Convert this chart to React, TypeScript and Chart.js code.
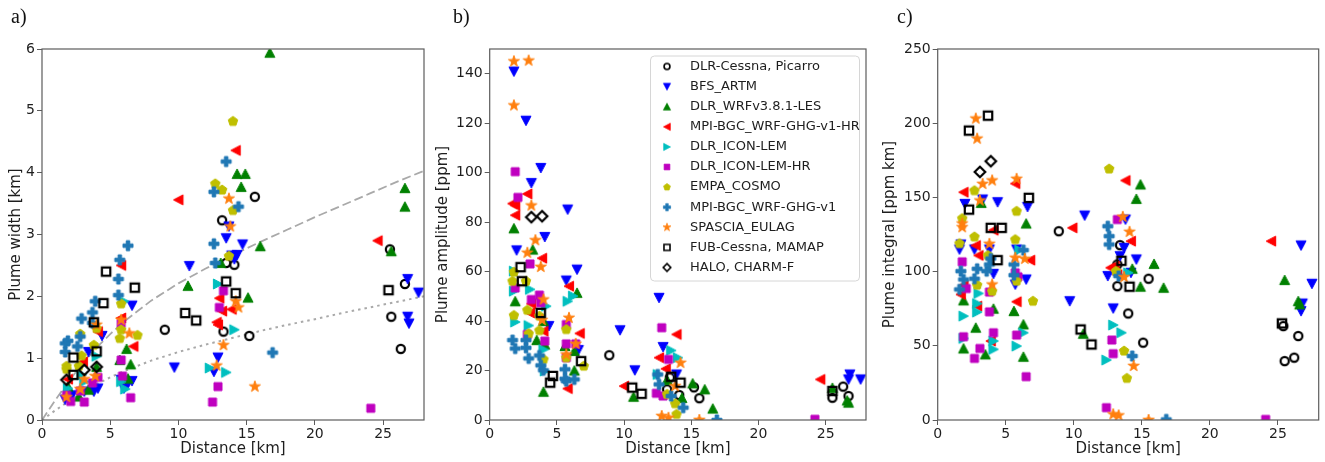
import React, { useEffect, useRef } from 'react';
import { Chart, registerables } from 'chart.js';

Chart.register(...registerables);

type Pt = [number, number];

// ---------- axis ticks ----------
const distanceTicks = [0, 5, 10, 15, 20, 25];
const widthTicks = [0, 1, 2, 3, 4, 5, 6];
const amplitudeTicks = [0, 20, 40, 60, 80, 100, 120, 140];
const integralTicks = [0, 50, 100, 150, 200, 250];

// ---------- series ----------
const seriesLabels = [
  'DLR-Cessna, Picarro',
  'BFS_ARTM',
  'DLR_WRFv3.8.1-LES',
  'MPI-BGC_WRF-GHG-v1-HR',
  'DLR_ICON-LEM',
  'DLR_ICON-LEM-HR',
  'EMPA_COSMO',
  'MPI-BGC_WRF-GHG-v1',
  'SPASCIA_EULAG',
  'FUB-Cessna, MAMAP',
  'HALO, CHARM-F',
];
const seriesColors = ['#000000', '#0000ff', '#008000', '#ff0000', '#00bfbf', '#bf00bf', '#bfbf00', '#1f77b4', '#ff7f0e', '#000000', '#000000'];
const seriesMarkers = ['o', 'v', '^', '<', '>', 's', 'p', 'P', '*', 'S', 'D'];

// ---------- a) plume width [km] vs distance [km] ----------
const widthCessna: Pt[] = [[13.2, 3.23], [15.6, 3.61], [13.5, 2.54], [14.1, 2.51], [9.0, 1.46], [13.3, 1.43], [15.2, 1.36], [25.5, 2.76], [26.6, 2.2], [25.6, 1.67], [26.3, 1.15]];
const widthBfs: Pt[] = [[13.5, 2.94], [13.7, 3.13], [14.7, 2.84], [13.9, 2.66], [14.3, 2.67], [14.1, 2.6], [10.8, 2.49], [9.7, 0.85], [12.9, 1.01], [12.6, 0.78], [26.8, 2.28], [27.6, 2.06], [26.8, 1.67], [26.9, 1.56], [6.6, 1.85], [4.4, 1.36], [3.4, 1.1], [5.8, 0.65], [6.3, 0.59], [6.6, 0.63], [6.0, 0.51], [4.1, 0.51], [3.8, 0.46], [2.2, 0.4], [1.7, 0.33], [3.1, 0.46]];
const widthWrf: Pt[] = [[16.7, 5.94], [14.3, 3.98], [14.9, 3.98], [14.6, 3.77], [16.0, 2.81], [10.7, 2.17], [13.1, 2.54], [15.1, 1.98], [26.6, 3.75], [26.6, 3.45], [25.6, 2.73], [6.2, 1.15], [5.7, 0.97], [6.5, 0.9], [6.3, 0.67], [4.0, 0.86], [3.4, 0.49], [2.7, 0.38], [1.9, 0.54]];
const widthMpiHr: Pt[] = [[14.2, 4.36], [10.0, 3.56], [24.6, 2.9], [13.0, 1.97], [13.2, 1.76], [13.9, 1.79], [12.8, 1.58], [12.9, 1.54], [5.8, 2.5], [5.8, 1.65], [6.7, 1.19], [4.1, 1.43], [3.0, 0.94], [1.9, 0.66]];
const widthIcon: Pt[] = [[12.9, 2.2], [14.1, 1.46], [13.5, 0.77], [12.3, 0.84], [6.0, 1.92], [4.0, 1.03], [6.1, 0.5], [5.8, 0.62], [1.9, 0.51], [2.9, 0.73], [3.1, 0.62]];
const widthIconHr: Pt[] = [[13.3, 2.09], [13.0, 1.82], [12.9, 0.54], [12.5, 0.29], [24.1, 0.19], [5.8, 1.56], [5.8, 0.97], [5.9, 0.71], [6.5, 0.36], [4.1, 0.69], [3.7, 0.6], [3.1, 0.29], [2.8, 0.47], [2.1, 0.3], [1.8, 0.4]];
const widthCosmo: Pt[] = [[14.0, 4.83], [12.7, 3.82], [13.2, 3.72], [14.0, 3.39], [13.7, 2.65], [5.8, 1.88], [5.8, 1.46], [5.7, 1.32], [7.0, 1.37], [4.0, 1.48], [3.8, 1.21], [2.8, 1.39], [2.9, 1.04], [2.7, 0.87], [1.8, 0.87], [1.8, 0.82]];
const widthMpi: Pt[] = [[13.5, 4.18], [12.6, 3.69], [14.4, 3.45], [12.6, 2.85], [12.7, 2.54], [16.9, 1.09], [6.3, 2.82], [5.7, 2.59], [5.6, 2.28], [5.6, 2.02], [3.9, 1.92], [3.7, 1.74], [2.9, 1.64], [3.7, 1.57], [2.8, 1.35], [2.6, 1.19], [1.9, 1.28], [1.7, 1.24], [1.7, 1.1]];
const widthSpascia: Pt[] = [[13.7, 3.58], [13.8, 3.13], [14.2, 1.92], [14.4, 1.82], [13.3, 1.21], [12.8, 0.88], [15.6, 0.54], [6.4, 1.4], [5.8, 1.62], [4.0, 1.54], [3.9, 0.71], [3.1, 0.66], [2.8, 0.5], [1.8, 0.37]];
const widthFub: Pt[] = [[4.7, 2.4], [4.5, 1.89], [6.8, 2.14], [3.8, 1.58], [4.0, 1.11], [2.3, 1.01], [2.3, 0.73], [10.5, 1.73], [11.3, 1.61], [13.5, 2.24], [14.2, 2.05], [25.4, 2.1]];
const widthHalo: Pt[] = [[1.8, 0.65], [3.1, 0.81], [4.0, 0.86]];

// fitted width curves (dashed: upper, dotted: lower)
const widthCurveDashed: Pt[] = [[0, 0], [1, 0.33], [2, 0.64], [3, 0.92], [4, 1.17], [5, 1.39], [6, 1.59], [8, 1.93], [10, 2.21], [12, 2.45], [14, 2.67], [16, 2.88], [18, 3.08], [20, 3.28], [22, 3.47], [24, 3.66], [26, 3.85], [28, 4.03]];
const widthCurveDotted: Pt[] = [[0, 0], [1, 0.16], [2, 0.31], [3, 0.45], [4, 0.58], [5, 0.69], [6, 0.79], [8, 0.96], [10, 1.1], [12, 1.22], [14, 1.33], [16, 1.44], [18, 1.54], [20, 1.63], [22, 1.73], [24, 1.82], [26, 1.91], [28, 2.0]];

// ---------- b) plume amplitude [ppm] vs distance [km] ----------
const amplitudeCessna: Pt[] = [[8.9, 26.2], [13.4, 17.2], [13.2, 12.4], [14.1, 10.1], [15.2, 13.2], [15.6, 8.8], [25.5, 9.0], [26.3, 13.5], [26.7, 9.7]];
const amplitudeBfs: Pt[] = [[1.8, 140.9], [2.7, 121], [3.8, 101.9], [3.1, 95.8], [5.8, 85.1], [4.1, 74], [2.0, 68.6], [6.5, 60.8], [5.7, 56.4], [4.4, 38], [6.6, 28.3], [9.7, 36.3], [10.8, 20.1], [12.6, 49.4], [12.9, 29.5], [13.9, 18.4], [26.8, 18.4], [26.7, 16.4], [27.6, 16.4]];
const amplitudeWrf: Pt[] = [[1.8, 77.5], [3.2, 68.9], [1.9, 48], [3.5, 32.3], [4.1, 30.5], [4.0, 40], [4.0, 11.4], [5.6, 29.9], [6.5, 51.4], [6.3, 27.9], [6.3, 20], [10.7, 9.4], [13.2, 16.2], [14.3, 8.9], [15.1, 14.8], [16.0, 12.4], [16.6, 4.6], [25.5, 13], [26.6, 7.9], [26.7, 7.0]];
const amplitudeMpiHr: Pt[] = [[2.8, 91.4], [1.7, 87.5], [1.9, 86.8], [1.9, 82.8], [3.9, 65.4], [3.1, 47], [3.0, 43.3], [4.0, 35.9], [5.9, 54.1], [6.7, 35], [5.8, 12.7], [10.0, 13.7], [12.6, 25.2], [13.9, 34.6], [13.1, 20.7], [24.6, 16.4]];
const amplitudeIcon: Pt[] = [[1.8, 60.2], [1.8, 52.1], [1.9, 39.6], [2.9, 38.2], [3.0, 52.8], [4.2, 46], [4.0, 28.5], [4.1, 19.8], [5.8, 48], [6.2, 50.1], [12.5, 18.4], [13.5, 28.1], [14.0, 25.2]];
const amplitudeIconHr: Pt[] = [[1.9, 100.4], [2.1, 90], [1.9, 53.4], [3.0, 63.1], [3.1, 48.7], [3.7, 50.5], [3.8, 47.4], [4.1, 31.9], [2.8, 34.6], [5.7, 38.6], [5.7, 30.8], [5.7, 25.2], [6.4, 30.8], [12.8, 37.3], [13.3, 24.5], [12.4, 10.8], [12.9, 9.7], [24.2, 0.3]];
const amplitudeCosmo: Pt[] = [[1.8, 59.8], [1.7, 56.1], [2.7, 56.1], [1.8, 42.3], [2.8, 44.4], [2.9, 34.9], [3.7, 42], [3.7, 36.2], [4.0, 24.5], [5.7, 36.6], [5.7, 25.2], [7.0, 21.8], [13.2, 10.4], [13.8, 6.6], [13.9, 2.3]];
const amplitudeMpi: Pt[] = [[1.7, 32.3], [1.9, 28.9], [2.7, 32.3], [2.7, 29.2], [2.9, 24.9], [3.7, 26.1], [3.8, 22.1], [4.0, 20.1], [5.6, 20.5], [5.6, 16.7], [6.3, 16.4], [5.7, 15.7], [12.5, 18.4], [12.6, 14.4], [13.5, 9.7], [14.4, 5.0], [16.9, 0]];
const amplitudeSpascia: Pt[] = [[1.8, 145], [2.9, 145.3], [1.8, 127.2], [3.1, 86.7], [3.4, 72.7], [2.8, 67.6], [3.8, 61.9], [4.0, 48.7], [3.9, 40.4], [5.9, 41.3], [5.7, 26.5], [6.4, 30.8], [14.2, 23.1], [13.8, 13.7], [12.8, 1.6], [13.3, 0.9], [15.6, 0]];
const amplitudeFub: Pt[] = [[2.3, 61.8], [2.4, 56.1], [3.8, 43.3], [4.7, 17.8], [4.5, 15.1], [6.8, 23.8], [10.6, 13.1], [11.3, 10.6], [13.5, 17.5], [14.2, 15.1], [25.5, 11.7]];
const amplitudeHalo: Pt[] = [[3.1, 82], [3.9, 82.4]];

// ---------- c) plume integral [ppm km] vs distance [km] ----------
const integralCessna: Pt[] = [[8.9, 127.2], [13.4, 117.8], [13.2, 104.8], [13.2, 90.2], [14.0, 71.8], [15.5, 95.2], [15.1, 52.1], [25.4, 63.3], [25.5, 39.7], [26.2, 42], [26.5, 56.6]];
const integralBfs: Pt[] = [[2.0, 145.6], [3.3, 148.6], [4.4, 146.8], [6.6, 143.6], [1.7, 118.3], [1.6, 114.9], [2.7, 114.9], [3.8, 114.9], [4.1, 98.5], [5.8, 114.9], [5.7, 91.3], [6.5, 94.7], [10.8, 137.8], [9.7, 80.1], [12.9, 75.2], [13.8, 135.1], [13.7, 116], [13.4, 110.4], [14.6, 108.2], [12.5, 97], [14.2, 99.2], [26.7, 117.6], [27.5, 91.8], [26.7, 73.4], [26.8, 78.5]];
const integralWrf: Pt[] = [[3.2, 146.3], [1.9, 80.6], [4.1, 75], [5.6, 73.4], [6.5, 132.4], [6.3, 64.4], [2.8, 62.2], [1.9, 48.2], [3.5, 44.2], [6.3, 42.6], [10.7, 58.1], [14.9, 158.7], [14.6, 149], [14.3, 101.9], [15.9, 105.2], [16.6, 89.1], [14.9, 89.8], [25.5, 94.3], [26.5, 80.1], [26.6, 77.9]];
const integralMpiHr: Pt[] = [[1.9, 153.5], [2.8, 117.6], [3.0, 110.9], [4.1, 127.9], [1.7, 84.6], [1.9, 90.7], [2.9, 76.7], [5.7, 159.3], [5.8, 79.7], [6.8, 107.7], [3.9, 53.2], [9.9, 129.5], [13.8, 161.4], [14.2, 120.5], [12.7, 102.6], [13.0, 103.7], [13.2, 98], [24.5, 120.5]];
const integralIcon: Pt[] = [[1.9, 70], [2.9, 72.7], [3.0, 85.3], [2.9, 78.5], [4.1, 53.2], [4.1, 47.6], [5.8, 49.8], [6.3, 58.8], [6.0, 114.5], [12.4, 40.4], [12.9, 64], [13.5, 58.8], [14.0, 99.2], [1.9, 55]];
const integralIconHr: Pt[] = [[1.8, 106.6], [2.1, 88.6], [3.8, 86.2], [3.8, 72.9], [4.1, 58.8], [3.1, 48.2], [2.7, 41.5], [1.9, 56.1], [5.8, 57.2], [5.7, 99.2], [5.9, 96.5], [6.5, 29.2], [13.2, 135.1], [12.8, 53.9], [12.9, 44.7], [12.4, 8.3], [24.1, 0.4]];
const integralCosmo: Pt[] = [[2.7, 154.6], [1.8, 135.8], [2.7, 123.4], [1.6, 118.9], [3.7, 110.9], [2.9, 90.9], [4.0, 86.8], [5.8, 140.7], [5.7, 121.6], [5.8, 93.6], [7.0, 80.1], [12.6, 169.2], [13.1, 100.3], [13.7, 46.5], [13.9, 28.1]];
const integralMpi: Pt[] = [[1.7, 100.3], [1.9, 94.7], [1.6, 88], [2.7, 95.2], [2.9, 101.9], [3.6, 100.3], [3.8, 104.8], [3.9, 108.8], [5.6, 104.8], [5.6, 97.6], [6.3, 114.5], [12.5, 130.6], [12.6, 123.9], [12.6, 118.3], [13.3, 97], [14.3, 43.1], [16.8, 0.4]];
const integralSpascia: Pt[] = [[2.8, 203.1], [2.9, 189.6], [3.3, 159.1], [4.0, 161.4], [3.1, 147.9], [1.8, 132.4], [1.8, 129.9], [3.8, 118.7], [4.0, 91.3], [5.8, 162.5], [5.7, 109.3], [6.4, 108.6], [13.6, 136.9], [14.1, 126.8], [13.7, 96.3], [14.4, 36.4], [12.9, 3.8], [13.3, 3.1], [15.5, 0]];
const integralFub: Pt[] = [[3.7, 205.1], [2.3, 195], [2.3, 141.8], [3.9, 129.5], [4.7, 129.5], [6.7, 149.7], [4.4, 107.7], [10.5, 61], [11.3, 50.9], [13.5, 107.3], [14.1, 89.8], [25.3, 65.1]];
const integralHalo: Pt[] = [[3.1, 167.2], [3.9, 174.4]];

const widthSeries = [widthCessna, widthBfs, widthWrf, widthMpiHr, widthIcon, widthIconHr, widthCosmo, widthMpi, widthSpascia, widthFub, widthHalo];
const amplitudeSeries = [amplitudeCessna, amplitudeBfs, amplitudeWrf, amplitudeMpiHr, amplitudeIcon, amplitudeIconHr, amplitudeCosmo, amplitudeMpi, amplitudeSpascia, amplitudeFub, amplitudeHalo];
const integralSeries = [integralCessna, integralBfs, integralWrf, integralMpiHr, integralIcon, integralIconHr, integralCosmo, integralMpi, integralSpascia, integralFub, integralHalo];

const FONT = "'DejaVu Sans', sans-serif";
const INK = '#1e1e1e';
const SPINE = '#5c5c5c';

// Draws a matplotlib-like marker into a small offscreen canvas.
function makeMarker(kind: string, color: string, scale = 1): HTMLCanvasElement {
  const size = 18;
  const c = document.createElement('canvas');
  c.width = size;
  c.height = size;
  const ctx = c.getContext('2d') as CanvasRenderingContext2D;
  ctx.translate(size / 2, size / 2);
  ctx.scale(scale, scale);
  ctx.lineJoin = 'miter';
  ctx.beginPath();
  const polygon = (pts: number[][]) => {
    pts.forEach(([x, y], i) => (i === 0 ? ctx.moveTo(x, y) : ctx.lineTo(x, y)));
    ctx.closePath();
  };
  let hollow = false;
  switch (kind) {
    case 'o':
      ctx.arc(0, 0, 4.1, 0, Math.PI * 2);
      hollow = true;
      break;
    case 'v':
      polygon([[-5, -4.6], [5, -4.6], [0, 4.9]]);
      break;
    case '^':
      polygon([[-5, 4.6], [5, 4.6], [0, -4.9]]);
      break;
    case '<':
      polygon([[4.6, -5], [4.6, 5], [-4.9, 0]]);
      break;
    case '>':
      polygon([[-4.6, -5], [-4.6, 5], [4.9, 0]]);
      break;
    case 's':
      ctx.rect(-4, -4, 8, 8);
      break;
    case 'p': {
      const pts: number[][] = [];
      for (let i = 0; i < 5; i++) {
        const a = -Math.PI / 2 + (i * 2 * Math.PI) / 5;
        pts.push([5 * Math.cos(a), 5 * Math.sin(a)]);
      }
      polygon(pts);
      break;
    }
    case 'P': {
      const a = 1.75;
      const b = 5;
      polygon([[-a, -b], [a, -b], [a, -a], [b, -a], [b, a], [a, a], [a, b], [-a, b], [-a, a], [-b, a], [-b, -a], [-a, -a]]);
      break;
    }
    case '*': {
      const pts: number[][] = [];
      for (let i = 0; i < 10; i++) {
        const r = i % 2 === 0 ? 5.8 : 2.3;
        const a = -Math.PI / 2 + (i * Math.PI) / 5;
        pts.push([r * Math.cos(a), r * Math.sin(a)]);
      }
      polygon(pts);
      break;
    }
    case 'S':
      ctx.rect(-4.2, -4.2, 8.4, 8.4);
      hollow = true;
      break;
    case 'D':
      polygon([[0, -5.3], [5.3, 0], [0, 5.3], [-5.3, 0]]);
      hollow = true;
      break;
  }
  if (hollow) {
    ctx.lineWidth = 2.2;
    ctx.strokeStyle = color;
    ctx.stroke();
  } else {
    ctx.fillStyle = color;
    ctx.fill();
    ctx.lineWidth = 1;
    ctx.strokeStyle = color;
    ctx.stroke();
  }
  return c;
}

// Full box around the plotting area, drawn over the markers.
const framePlugin = {
  id: 'frame',
  afterDraw(chart: any) {
    const { ctx, chartArea: a } = chart;
    ctx.save();
    ctx.strokeStyle = SPINE;
    ctx.lineWidth = 1.2;
    ctx.strokeRect(a.left, a.top, a.right - a.left, a.bottom - a.top);
    ctx.restore();
  },
};

// Legend box placed in the upper right of the amplitude panel.
function makeLegendPlugin(markers: HTMLCanvasElement[]) {
  return {
    id: 'insetLegend',
    afterDraw(chart: any) {
      const { ctx, chartArea: a } = chart;
      const boxW = 209;
      const boxRight = a.right - 7;
      const boxLeft = boxRight - boxW;
      const boxTop = a.top + 6.5;
      const rowH = 20.1;
      const boxH = 225;
      ctx.save();
      ctx.beginPath();
      ctx.roundRect(boxLeft + 0.5, boxTop + 0.5, boxW, boxH, 4);
      ctx.fillStyle = 'rgba(255,255,255,0.85)';
      ctx.fill();
      ctx.strokeStyle = '#d6d6d6';
      ctx.lineWidth = 1;
      ctx.stroke();
      ctx.font = `13px ${FONT}`;
      ctx.fillStyle = INK;
      ctx.textBaseline = 'middle';
      ctx.textAlign = 'left';
      seriesLabels.forEach((label, i) => {
        const cy = boxTop + 11 + i * rowH;
        const m = markers[i];
        ctx.drawImage(m, boxLeft + 17 - m.width / 2, cy - m.height / 2);
        ctx.fillText(label, boxLeft + 40, cy);
      });
      ctx.restore();
    },
  };
}

interface PanelSpec {
  yTitle: string;
  yMax: number;
  yTicks: number[];
  series: Pt[][];
  axisWidth: number;
  padRight: number;
  titlePad: number;
  curves?: boolean;
  legend?: boolean;
}

const toXY = (pts: Pt[]) => pts.map(([x, y]) => ({ x, y }));

function buildChart(canvas: HTMLCanvasElement, spec: PanelSpec, markers: HTMLCanvasElement[], legendMarkers: HTMLCanvasElement[]) {
  const datasets: any[] = [];
  if (spec.curves) {
    datasets.push({
      label: 'upper fit',
      data: toXY(widthCurveDashed),
      showLine: true,
      borderColor: '#a9a9a9',
      borderWidth: 1.8,
      borderDash: [9, 4],
      pointRadius: 0,
      tension: 0,
      order: 100,
      clip: 0,
    });
    datasets.push({
      label: 'lower fit',
      data: toXY(widthCurveDotted),
      showLine: true,
      borderColor: '#a9a9a9',
      borderWidth: 2,
      borderDash: [2.5, 4],
      pointRadius: 0,
      tension: 0,
      order: 100,
      clip: 0,
    });
  }
  spec.series.forEach((pts, i) => {
    datasets.push({
      label: seriesLabels[i],
      data: toXY(pts),
      showLine: false,
      pointStyle: markers[i],
      pointRadius: 5,
      pointHoverRadius: 5,
      order: 50 - i,
      clip: 0,
    });
  });

  const plugins: any[] = [framePlugin];
  if (spec.legend) plugins.push(makeLegendPlugin(legendMarkers));

  return new Chart(canvas, {
    type: 'scatter',
    data: { datasets },
    plugins,
    options: {
      animation: false,
      responsive: false,
      maintainAspectRatio: false,
      events: [],
      layout: { padding: { left: 0, right: spec.padRight, top: 49, bottom: 0 } },
      plugins: { legend: { display: false }, tooltip: { enabled: false } },
      scales: {
        x: {
          type: 'linear',
          min: 0,
          max: 28,
          afterBuildTicks: (s: any) => {
            s.ticks = distanceTicks.map((v) => ({ value: v }));
          },
          afterFit: (s: any) => {
            s.height = 42;
          },
          grid: { display: true, drawOnChartArea: false, drawTicks: true, tickLength: 5, color: SPINE, lineWidth: 1 },
          border: { display: false },
          ticks: { font: { family: FONT, size: 14 }, color: INK, padding: 1, maxRotation: 0, autoSkip: false },
          title: { display: true, text: 'Distance [km]', font: { family: FONT, size: 15 }, color: INK, padding: { top: 0, bottom: 4 } },
        },
        y: {
          type: 'linear',
          min: 0,
          max: spec.yMax,
          afterBuildTicks: (s: any) => {
            s.ticks = spec.yTicks.map((v) => ({ value: v }));
          },
          afterFit: (s: any) => {
            s.width = spec.axisWidth;
          },
          grid: { display: true, drawOnChartArea: false, drawTicks: true, tickLength: 5, color: SPINE, lineWidth: 1 },
          border: { display: false },
          ticks: { font: { family: FONT, size: 14 }, color: INK, padding: 2, autoSkip: false },
          title: { display: true, text: spec.yTitle, font: { family: FONT, size: 15 }, color: INK, padding: { top: spec.titlePad, bottom: 0 } },
        },
      },
    } as any,
  });
}

const panelLabelStyle: React.CSSProperties = {
  position: 'absolute',
  top: 6,
  fontFamily: "'Liberation Serif', 'Times New Roman', serif",
  fontSize: 20,
  lineHeight: '20px',
  color: '#111',
};

export default function App() {
  const refA = useRef<HTMLCanvasElement>(null);
  const refB = useRef<HTMLCanvasElement>(null);
  const refC = useRef<HTMLCanvasElement>(null);

  useEffect(() => {
    const markers = seriesMarkers.map((m, i) => makeMarker(m, seriesColors[i]));
    const legendMarkers = seriesMarkers.map((m, i) => makeMarker(m, seriesColors[i], 0.72));
    const charts = [
      buildChart(refA.current as HTMLCanvasElement, { yTitle: 'Plume width [km]', yMax: 6, yTicks: widthTicks, series: widthSeries, axisWidth: 42, padRight: 16, titlePad: 7.3, curves: true }, markers, legendMarkers),
      buildChart(refB.current as HTMLCanvasElement, { yTitle: 'Plume amplitude [ppm]', yMax: 150, yTicks: amplitudeTicks, series: amplitudeSeries, axisWidth: 65.7, padRight: 1, titlePad: 10, legend: true }, markers, legendMarkers),
      buildChart(refC.current as HTMLCanvasElement, { yTitle: 'Plume integral [ppm km]', yMax: 250, yTicks: integralTicks, series: integralSeries, axisWidth: 65.7, padRight: 6.3, titlePad: 9.5 }, markers, legendMarkers),
    ];
    return () => charts.forEach((c) => c.destroy());
  }, []);

  return (
    <div style={{ position: 'fixed', left: 0, top: 0, width: 1325, height: 462, background: '#fff', overflow: 'hidden' }}>
      <canvas ref={refA} width={440} height={462} style={{ position: 'absolute', left: 0, top: 0 }} />
      <canvas ref={refB} width={448} height={462} style={{ position: 'absolute', left: 424, top: 0 }} />
      <canvas ref={refC} width={453} height={462} style={{ position: 'absolute', left: 872, top: 0 }} />
      <div style={{ ...panelLabelStyle, left: 11 }}>a)</div>
      <div style={{ ...panelLabelStyle, left: 453 }}>b)</div>
      <div style={{ ...panelLabelStyle, left: 897 }}>c)</div>
    </div>
  );
}
